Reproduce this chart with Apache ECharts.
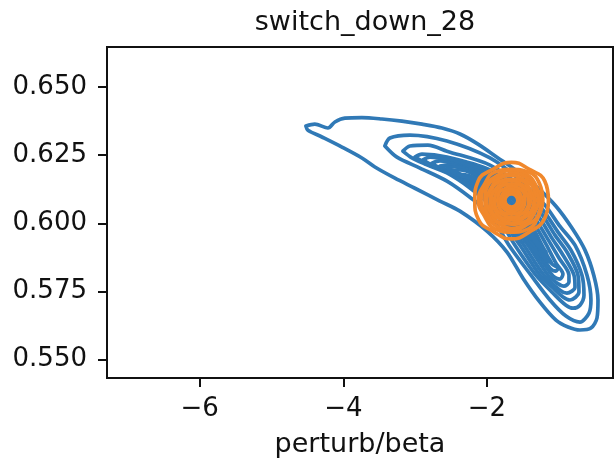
<!DOCTYPE html>
<html><head><meta charset="utf-8">
<script src="https://cdn.jsdelivr.net/npm/echarts@6/dist/echarts.min.js"></script>
<style>html,body{margin:0;padding:0;background:#fff}#c{width:615px;height:465px}</style>
</head><body><div id="c"></div>
<script>
const chartTitle = 'switch_down_28';
const xName = 'perturb/beta';
const xTickValues = [-6, -4, -2];
const xTickLabels = ['\u22126', '\u22124', '\u22122'];
const yTickValues = [0.55, 0.575, 0.6, 0.625, 0.65];
const yTickLabels = ['0.550', '0.575', '0.600', '0.625', '0.650'];
const xRange = [-7.29, -0.245];
const yRange = [0.5433, 0.6647];

// blue KDE contour levels (outer -> inner), [perturb/beta, y]
const blueLevel1 = [[-4.521,0.6357],[-4.396,0.6364],[-4.214,0.6350],[-4.117,0.6372],[-3.978,0.6386],[-3.741,0.6388],[-3.462,0.6383],[-3.184,0.6375],[-2.905,0.6364],[-2.627,0.6350],[-2.376,0.6328],[-2.125,0.6291],[-1.861,0.6243],[-1.582,0.6192],[-1.304,0.6133],[-1.039,0.6063],[-0.816,0.5983],[-0.635,0.5902],[-0.510,0.5807],[-0.454,0.5719],[-0.468,0.5653],[-0.552,0.5616],[-0.705,0.5609],[-0.872,0.5620],[-1.039,0.5645],[-1.262,0.5711],[-1.499,0.5799],[-1.721,0.5895],[-2.000,0.5972],[-2.376,0.6045],[-2.655,0.6082],[-3.003,0.6129],[-3.281,0.6166],[-3.560,0.6207],[-3.741,0.6240],[-4.019,0.6280],[-4.298,0.6317],[-4.493,0.6342],[-4.521,0.6357]];
const blueLevel2 = [[-3.421,0.6284],[-3.351,0.6313],[-3.072,0.6324],[-2.557,0.6302],[-1.958,0.6240],[-1.540,0.6159],[-1.192,0.6067],[-0.997,0.5994],[-0.774,0.5920],[-0.607,0.5810],[-0.552,0.5719],[-0.579,0.5671],[-0.705,0.5638],[-0.900,0.5660],[-1.123,0.5719],[-1.387,0.5810],[-1.694,0.5920],[-1.958,0.6034],[-2.237,0.6096],[-2.557,0.6155],[-2.933,0.6203],[-3.253,0.6243],[-3.421,0.6284]];
const blueLevel3 = [[-3.170,0.6265],[-3.072,0.6284],[-2.822,0.6287],[-2.557,0.6265],[-1.958,0.6214],[-1.540,0.6137],[-1.220,0.6049],[-1.011,0.5968],[-0.830,0.5902],[-0.677,0.5810],[-0.649,0.5737],[-0.705,0.5700],[-0.802,0.5689],[-0.900,0.5700],[-1.053,0.5737],[-1.318,0.5810],[-1.610,0.5920],[-1.777,0.5994],[-1.958,0.6067],[-2.237,0.6130],[-2.557,0.6185],[-2.864,0.6218],[-3.045,0.6240],[-3.170,0.6265]];
const blueLevel4 = [[-3.003,0.6243],[-2.905,0.6254],[-2.557,0.6243],[-1.958,0.6196],[-1.540,0.6119],[-1.248,0.6038],[-1.053,0.5957],[-0.886,0.5895],[-0.733,0.5810],[-0.719,0.5748],[-0.844,0.5719],[-0.942,0.5730],[-1.081,0.5763],[-1.262,0.5810],[-1.540,0.5920],[-1.735,0.5994],[-1.958,0.6082],[-2.237,0.6141],[-2.557,0.6188],[-2.822,0.6218],[-3.003,0.6243]];
const blueLevel5 = [[-2.891,0.6233],[-2.794,0.6243],[-2.557,0.6233],[-1.958,0.6185],[-1.540,0.6104],[-1.276,0.6023],[-1.095,0.5946],[-0.942,0.5884],[-0.788,0.5810],[-0.774,0.5766],[-0.886,0.5744],[-0.983,0.5755],[-1.206,0.5810],[-1.485,0.5920],[-1.694,0.5994],[-1.958,0.6093],[-2.237,0.6148],[-2.557,0.6192],[-2.766,0.6214],[-2.891,0.6233]];
const blueLevel6 = [[-2.766,0.6221],[-2.655,0.6229],[-2.557,0.6225],[-1.958,0.6174],[-1.540,0.6089],[-1.304,0.6008],[-1.136,0.5935],[-0.997,0.5873],[-0.858,0.5810],[-0.858,0.5785],[-0.928,0.5770],[-1.025,0.5781],[-1.150,0.5810],[-1.429,0.5920],[-1.652,0.5994],[-1.958,0.6100],[-2.237,0.6152],[-2.557,0.6196],[-2.682,0.6207],[-2.766,0.6221]];
const blueLevel7 = [[-2.655,0.6210],[-2.557,0.6214],[-1.958,0.6163],[-1.540,0.6074],[-1.331,0.5994],[-1.178,0.5924],[-1.039,0.5854],[-0.942,0.5814],[-0.983,0.5796],[-1.081,0.5807],[-1.387,0.5920],[-1.610,0.5994],[-1.958,0.6108],[-2.237,0.6155],[-2.557,0.6199],[-2.655,0.6210]];
const blueLevel8 = [[-2.557,0.6203],[-2.446,0.6207],[-1.958,0.6152],[-1.540,0.6060],[-1.359,0.5983],[-1.220,0.5913],[-1.095,0.5851],[-1.011,0.5836],[-1.039,0.5825],[-1.123,0.5836],[-1.345,0.5920],[-1.568,0.5994],[-1.958,0.6111],[-2.237,0.6159],[-2.446,0.6192],[-2.557,0.6203]];
const blueLevel9 = [[-2.487,0.6192],[-2.376,0.6196],[-1.958,0.6144],[-1.568,0.6049],[-1.387,0.5975],[-1.262,0.5909],[-1.136,0.5869],[-1.109,0.5858],[-1.178,0.5865],[-1.304,0.5920],[-1.526,0.5990],[-1.958,0.6115],[-2.237,0.6163],[-2.404,0.6181],[-2.487,0.6192]];
const blueLevel10 = [[-2.404,0.6181],[-2.237,0.6174],[-1.958,0.6137],[-1.610,0.6041],[-1.401,0.5968],[-1.248,0.5917],[-1.178,0.5895],[-1.248,0.5906],[-1.345,0.5939],[-1.513,0.5990],[-1.958,0.6119],[-2.237,0.6166],[-2.348,0.6174],[-2.404,0.6181]];

// orange KDE contour levels (outer -> inner)
const orangeLevel1 = [[-1.144,0.6084],[-1.195,0.6155],[-1.409,0.6198],[-1.659,0.6224],[-1.911,0.6199],[-2.123,0.6155],[-2.169,0.6084],[-2.118,0.6014],[-1.909,0.5970],[-1.659,0.5943],[-1.407,0.5969],[-1.204,0.6015],[-1.144,0.6084]];
const orangeLevel2 = [[-1.222,0.6084],[-1.265,0.6144],[-1.429,0.6189],[-1.659,0.6198],[-1.887,0.6188],[-2.038,0.6142],[-2.118,0.6084],[-2.034,0.6027],[-1.887,0.5980],[-1.659,0.5968],[-1.429,0.5979],[-1.281,0.6027],[-1.222,0.6084]];
const orangeLevel3 = [[-1.248,0.6084],[-1.314,0.6137],[-1.449,0.6180],[-1.659,0.6195],[-1.858,0.6175],[-2.015,0.6138],[-2.082,0.6084],[-2.008,0.6031],[-1.865,0.5990],[-1.659,0.5974],[-1.460,0.5993],[-1.292,0.6028],[-1.248,0.6084]];
const orangeLevel4 = [[-1.276,0.6084],[-1.343,0.6132],[-1.467,0.6171],[-1.659,0.6183],[-1.841,0.6167],[-1.994,0.6135],[-2.028,0.6084],[-1.991,0.6034],[-1.841,0.6001],[-1.659,0.5982],[-1.471,0.5998],[-1.343,0.6036],[-1.276,0.6084]];
const orangeLevel5 = [[-1.328,0.6084],[-1.355,0.6130],[-1.492,0.6160],[-1.659,0.6176],[-1.835,0.6164],[-1.945,0.6128],[-2.007,0.6084],[-1.948,0.6040],[-1.835,0.6004],[-1.659,0.5997],[-1.485,0.6005],[-1.364,0.6039],[-1.328,0.6084]];
const orangeLevel6 = [[-1.344,0.6084],[-1.399,0.6124],[-1.503,0.6155],[-1.659,0.6162],[-1.812,0.6154],[-1.932,0.6126],[-1.956,0.6084],[-1.929,0.6043],[-1.811,0.6015],[-1.659,0.6001],[-1.511,0.6016],[-1.389,0.6043],[-1.344,0.6084]];
const orangeLevel7 = [[-1.392,0.6084],[-1.419,0.6121],[-1.527,0.6144],[-1.659,0.6158],[-1.792,0.6145],[-1.895,0.6120],[-1.939,0.6084],[-1.888,0.6049],[-1.798,0.6021],[-1.659,0.6014],[-1.519,0.6020],[-1.431,0.6049],[-1.392,0.6084]];
const orangeLevel8 = [[-1.417,0.6084],[-1.458,0.6115],[-1.537,0.6140],[-1.659,0.6145],[-1.780,0.6139],[-1.860,0.6115],[-1.896,0.6084],[-1.870,0.6052],[-1.774,0.6032],[-1.659,0.6020],[-1.543,0.6031],[-1.448,0.6052],[-1.417,0.6084]];
const orangeLevel9 = [[-1.470,0.6084],[-1.485,0.6111],[-1.562,0.6129],[-1.659,0.6136],[-1.754,0.6127],[-1.833,0.6111],[-1.850,0.6084],[-1.828,0.6058],[-1.759,0.6038],[-1.659,0.6034],[-1.560,0.6039],[-1.494,0.6059],[-1.470,0.6084]];
const orangeLevel10 = [[-1.506,0.6084],[-1.531,0.6104],[-1.580,0.6120],[-1.659,0.6124],[-1.737,0.6120],[-1.788,0.6104],[-1.817,0.6084],[-1.789,0.6064],[-1.736,0.6049],[-1.659,0.6043],[-1.585,0.6050],[-1.523,0.6063],[-1.506,0.6084]];
const orangeLevel11 = [[-1.538,0.6084],[-1.570,0.6107],[-1.659,0.6115],[-1.747,0.6107],[-1.780,0.6084],[-1.742,0.6062],[-1.659,0.6051],[-1.575,0.6062],[-1.538,0.6084]];
const orangeLevel12 = [[-1.569,0.6084],[-1.595,0.6101],[-1.659,0.6108],[-1.723,0.6101],[-1.750,0.6084],[-1.723,0.6067],[-1.659,0.6060],[-1.595,0.6067],[-1.569,0.6084]];

const blueLevels = [blueLevel1, blueLevel2, blueLevel3, blueLevel4, blueLevel5, blueLevel6, blueLevel7, blueLevel8, blueLevel9, blueLevel10];
const orangeLevels = [orangeLevel1, orangeLevel2, orangeLevel3, orangeLevel4, orangeLevel5, orangeLevel6, orangeLevel7, orangeLevel8, orangeLevel9, orangeLevel10, orangeLevel11, orangeLevel12];

const BLUE = '#3079b6';
const ORANGE = '#f0882c';
const FONT = 'DejaVu Sans';

function lineSeries(data, color, z, smooth) {
  return {
    type: 'line', data: data, showSymbol: false, symbol: 'none', smooth: smooth,
    lineStyle: { color: color, width: 3.7, cap: 'round', join: 'round' },
    z: z, silent: true, animation: false
  };
}
const series = [];
blueLevels.forEach(d => series.push(lineSeries(d, BLUE, 2, 0.3)));
orangeLevels.forEach(d => series.push(lineSeries(d, ORANGE, 3, 0.5)));

function lookup(vals, labels, v) {
  const i = vals.findIndex(t => Math.abs(t - v) < 1e-9);
  return i >= 0 ? labels[i] : '';
}

const chart = echarts.init(document.getElementById('c'), null, { renderer: 'canvas' });
chart.setOption({
  animation: false,
  backgroundColor: '#fff',
  title: {
    text: chartTitle, left: 360, top: 4, textAlign: 'center',
    textStyle: { fontFamily: FONT, fontSize: 27, fontWeight: 'normal', color: '#111' }
  },
  grid: { left: 107, right: 2, top: 47, bottom: 87, show: true, borderColor: '#111', borderWidth: 2, backgroundColor: 'transparent' },
  xAxis: {
    type: 'value', min: xRange[0], max: xRange[1],
    name: xName, nameLocation: 'middle', nameGap: 53,
    nameTextStyle: { fontFamily: FONT, fontSize: 27, color: '#111' },
    axisLine: { show: false },
    axisTick: { show: true, length: 9, lineStyle: { color: '#111', width: 2 }, customValues: xTickValues },
    axisLabel: { fontFamily: FONT, fontSize: 26, color: '#111', margin: 18, customValues: xTickValues,
      formatter: v => lookup(xTickValues, xTickLabels, v) },
    splitLine: { show: false }
  },
  yAxis: {
    type: 'value', min: yRange[0], max: yRange[1],
    axisLine: { show: false },
    axisTick: { show: true, length: 9, lineStyle: { color: '#111', width: 2 }, customValues: yTickValues },
    axisLabel: { fontFamily: FONT, fontSize: 26, color: '#111', margin: 20, customValues: yTickValues,
      formatter: v => lookup(yTickValues, yTickLabels, v) },
    splitLine: { show: false }
  },
  series: series
});
</script></body></html>
